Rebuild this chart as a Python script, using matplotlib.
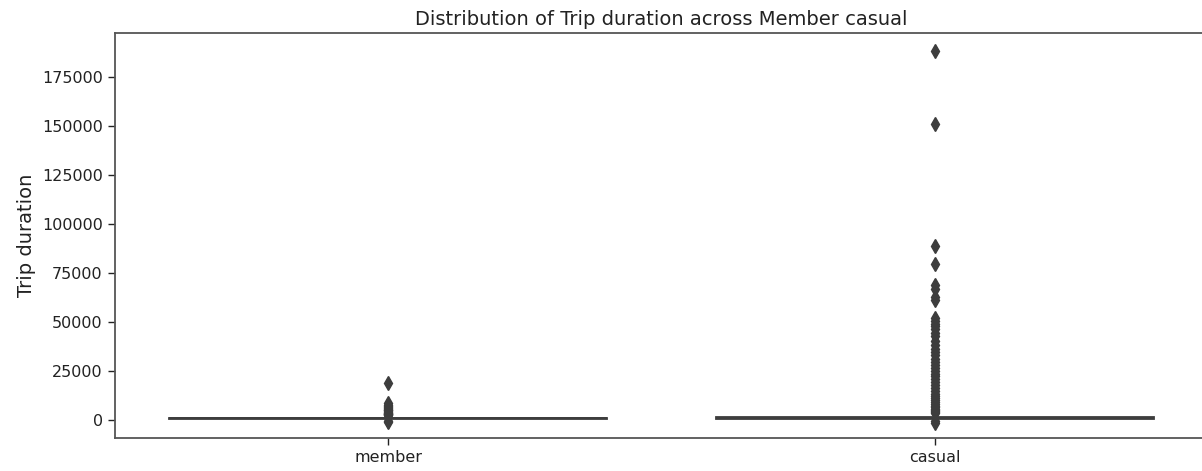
#!/usr/bin/python3
# -*- coding: utf-8 -*-

import matplotlib
matplotlib.use("Agg")
import matplotlib.pyplot as plt


# Categorías y resumen de la duración de los viajes (segundos)
categorias      = ["member", "casual"]
cuartil_1       = [330, 420]
mediana         = [560, 760]
cuartil_3       = [930, 1350]
bigote_inferior = [60, 60]
bigote_superior = [1830, 2740]

# Valores atípicos de cada categoría
atipicos_member = [18500, 8200, 7600, 7100, 6500, 6000, 5500, 5100, 4700, 4300,
                   3900, 3600, 3300, 3000, 2800, 2600, 2400, 2100, -600, -1300]
atipicos_casual = [187800, 150600, 88400, 79600, 68500, 66500, 62500, 61000,
                   52000, 50500, 49000, 47500, 46000, 44000, 42500, 40000,
                   38000, 36000, 34500, 33000, 31000, 29500, 28000, 26500,
                   25000, 23500, 22000, 20500, 19000, 17500, 16000, 14500,
                   13000, 12000, 11000, 10000, 9000, 8000, 7000, 6200, 5500,
                   4800, 4200, 3700, 3100, -700, -1500]

titulo    = "Distribution of Trip duration across Member casual"
leyenda_y = "Trip duration"
marcas_y  = [0, 25000, 50000, 75000, 100000, 125000, 150000, 175000]


def crear_estadisticas():
    atipicos = [atipicos_member, atipicos_casual]
    lista = []
    for i in range(len(categorias)):
        lista.append({
            "label": categorias[i],
            "q1": cuartil_1[i],
            "med": mediana[i],
            "q3": cuartil_3[i],
            "whislo": bigote_inferior[i],
            "whishi": bigote_superior[i],
            "fliers": atipicos[i],
        })
    return lista


fig = plt.figure(figsize=(12.02, 4.71), dpi=100)
# el eje se sale un poco por la derecha de la figura
ax = fig.add_axes([114.5 / 1202, 33 / 471, 1094 / 1202, 405 / 471])

gris = "#3d3d3d"
ax.bxp(crear_estadisticas(), positions=[0, 1], widths=0.8, patch_artist=True,
       showcaps=False,
       boxprops=dict(facecolor="#8c8c8c", edgecolor=gris, linewidth=1.3),
       medianprops=dict(color=gris, linewidth=1.3),
       whiskerprops=dict(color=gris, linewidth=1.3),
       flierprops=dict(marker="d", markersize=7.5, markerfacecolor=gris,
                       markeredgecolor=gris, linestyle="none"))

ax.set_xlim(-0.5, 1.5)
ax.set_ylim(-9400, 197200)
ax.set_yticks(marcas_y)
ax.set_xticks([0, 1])
ax.set_xticklabels(categorias)
ax.tick_params(labelsize=11.5, colors="#222222", length=5, width=1.0)
for lado in ax.spines.values():
    lado.set_color("#555555")
    lado.set_linewidth(1.3)

ax.set_ylabel(leyenda_y, fontsize=14, color="#222222")
ax.set_title(titulo, fontsize=14, color="#222222")

plt.savefig("out.png", dpi=100)
